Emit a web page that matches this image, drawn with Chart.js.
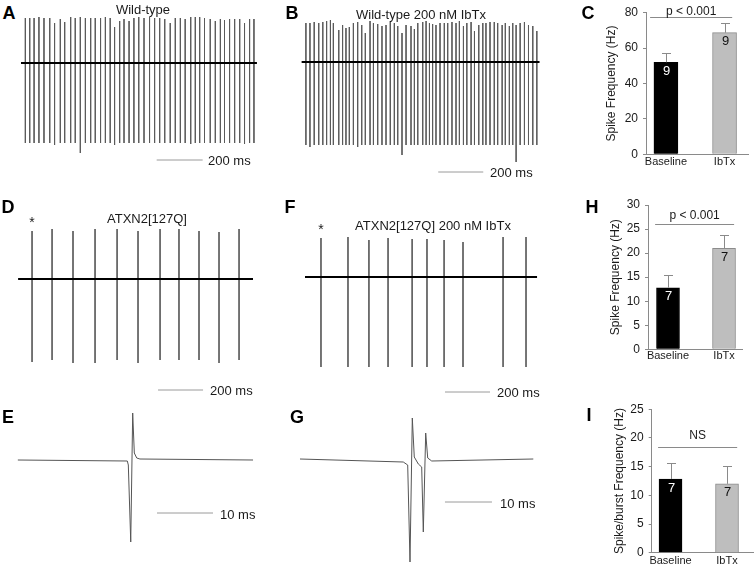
<!DOCTYPE html>
<html><head><meta charset="utf-8">
<script src="https://cdn.jsdelivr.net/npm/chart.js@4.4.1/dist/chart.umd.min.js"></script>
<style>
body{margin:0;background:#fff;width:755px;height:568px;position:relative;overflow:hidden;font-family:"Liberation Sans",Arial,sans-serif;}
canvas{position:absolute;}
.t{position:absolute;white-space:nowrap;color:#1a1a1a;line-height:1;transform:translate(-50%,-50%);}
.l{position:absolute;white-space:nowrap;color:#1a1a1a;line-height:1;transform:translate(0,-50%);font-size:13px;}
.L{font-weight:bold;font-size:18px;color:#000;}
.ti{font-size:13px;}
.ast{font-size:14px;}
</style></head><body>

<canvas id="cA" width="244" height="155" style="left:18px;top:10px"></canvas>
<canvas id="cB" width="246" height="168" style="left:296px;top:10px"></canvas>
<canvas id="cD" width="252" height="195" style="left:10px;top:200px"></canvas>
<canvas id="cF" width="246" height="198" style="left:296px;top:200px"></canvas>
<canvas id="cE" width="252" height="160" style="left:10px;top:400px"></canvas>
<canvas id="cG" width="246" height="170" style="left:296px;top:400px"></canvas>
<canvas id="cC" width="215" height="190" style="left:540px;top:0px"></canvas>
<canvas id="cH" width="215" height="180" style="left:540px;top:190px"></canvas>
<canvas id="cI" width="215" height="188" style="left:540px;top:380px"></canvas>

<div class="t L" style="left:9px;top:13px">A</div>
<div class="t L" style="left:292px;top:13px">B</div>
<div class="t L" style="left:588px;top:13px">C</div>
<div class="t L" style="left:8px;top:207px">D</div>
<div class="t L" style="left:290px;top:207px">F</div>
<div class="t L" style="left:592px;top:207px">H</div>
<div class="t L" style="left:8px;top:417px">E</div>
<div class="t L" style="left:297px;top:417px">G</div>
<div class="t L" style="left:589px;top:415px">I</div>

<div class="t ti" style="left:143px;top:9px">Wild-type</div>
<div class="t ti" style="left:421px;top:14px">Wild-type 200 nM IbTx</div>
<div class="t ti" style="left:147px;top:218px">ATXN2[127Q]</div>
<div class="t ti" style="left:433px;top:225px">ATXN2[127Q] 200 nM IbTx</div>
<div class="t ast" style="left:32px;top:222px">*</div>
<div class="t ast" style="left:321px;top:229px">*</div>

<div class="l" style="left:208px;top:160px">200 ms</div>
<div class="l" style="left:490px;top:172px">200 ms</div>
<div class="l" style="left:210px;top:390px">200 ms</div>
<div class="l" style="left:497px;top:392px">200 ms</div>
<div class="l" style="left:220px;top:514px">10 ms</div>
<div class="l" style="left:500px;top:503px">10 ms</div>

<script>
// ---------------- DATA ----------------
const conditions = ['Baseline', 'IbTx'];

// Bar panels (mean, SEM, n)
const wtSpikeFreq = [52.0, 68.7];
const wtSpikeSem = [5.0, 5.3];
const wtN = [9, 9];

const atxSpikeFreq = [12.8, 21.0];
const atxSpikeSem = [2.65, 2.8];
const atxN = [7, 7];

const atxBurstFreq = [12.85, 12.0];
const atxBurstSem = [2.75, 3.15];
const atxBurstN = [7, 7];

// Spike trains: spike times (ms), peak and trough amplitudes (arbitrary units, baseline 0)
const wtTimes = [32, 51, 70, 91, 113, 138, 159, 184, 203, 229, 249, 271, 293, 316, 336, 359, 380, 401, 420, 442, 461, 483, 504, 525, 548, 572, 594, 616, 638, 662, 684, 706, 727, 751, 771, 790, 811, 836, 858, 880, 898, 920, 942, 964, 985, 1007, 1026];
const wtPeaks = [45,45,45,46,45, 45,40,44,41,46, 45,46,45,45,45, 45,46,45,36,42, 44,42,45,46,45, 46,45,45,44,40, 45,45,44,46,46, 46,45,44,42,44, 43,44,44,44,40, 44,44];
const wtTroughs = [-80,-80,-80,-80,-80, -80,-82,-80,-80,-80, -80,-90,-80,-80,-80, -80,-80,-80,-82,-80, -80,-80,-80,-80,-80, -80,-80,-80,-80,-80, -80,-80,-80,-81,-80, -80,-80,-80,-80,-80, -80,-80,-80,-80,-81, -80,-80];

const wtIbTimes = [44, 62, 81, 101, 119, 136, 153, 166, 190, 207, 222, 237, 255, 274, 292, 308, 329, 344, 363, 382, 400, 419, 437, 452, 471, 489, 511, 526, 541, 563, 578, 593, 607, 622, 640, 659, 674, 693, 711, 726, 744, 759, 778, 793, 812, 830, 844, 862, 881, 896, 916, 930, 948, 963, 978, 996, 1015, 1033, 1052, 1070];
const wtIbPeaks = [39,39,40,39,40, 41,42,39,32,37, 34,35,39,40,37, 29,41,39,38,36, 37,40,39,36,29, 37,36,33,39,40, 41,39,38,37,39, 39,39,40,39,41, 36,39,40,31,37, 39,39,40,40,39, 37,39,36,39,37, 39,40,37,36,31];
const wtIbTroughs = [-83,-85,-83,-83,-83, -83,-83,-83,-83,-83, -83,-83,-83,-85,-83, -83,-83,-83,-83,-83, -83,-83,-83,-83,-93, -83,-83,-83,-83,-83, -83,-83,-83,-83,-83, -83,-83,-83,-83,-83, -83,-83,-83,-83,-83, -83,-83,-83,-83,-83, -83,-83,-83,-83,-100, -83,-83,-83,-83,-83];

const atxTimes = [98, 187, 280, 378, 476, 569, 667, 751, 840, 929, 1018];
const atxPeaks = [48, 50, 48, 50, 50, 48, 50, 50, 48, 47, 50];
const atxTroughs = [-83, -81, -84, -84, -81, -84, -81, -81, -81, -84, -81];

const atxIbTimes = [111, 231, 324, 409, 516, 582, 658, 742, 920, 1022];
const atxIbPeaks = [39, 40, 37, 39, 38, 38, 37, 35, 40, 40];
const atxIbTroughs = [-90, -90, -90, -90, -90, -90, -90, -90, -90, -90];

// Single-spike waveforms (time ms, amplitude)
const eTimes = [1.4, 20.95, 21.13, 21.56, 21.91, 22.2, 22.63, 23.2, 43.4];
const eVolts = [0, -1, -5, -82, 47, 7, 2, 1, 0];
const gTimes = [0.85, 22.83, 23.77, 24.26, 24.75, 25.17, 26.03, 26.75, 27.09, 27.6, 28.03, 28.88, 50.5];
const gVolts = [0, -3, -6, -103, 41, 2, -5, -8, -73, 26, 1, -2, 0];

// Scale bar lengths (ms)
const longBar = 200;
const shortBar = 10;

// ---------------- RENDER ----------------
Chart.defaults.font.family = '"Liberation Sans", Arial, sans-serif';
Chart.defaults.color = '#222';

function traceChart(id, o) {
  const datasets = [];
  if (o.base) datasets.push({data: [{x: o.base[0], y: 0}, {x: o.base[1], y: 0}], borderColor: '#000', borderWidth: 2});
  if (o.times) {
    const pts = [];
    o.times.forEach((t, i) => { pts.push({x: t, y: o.peaks[i]}, {x: t, y: o.troughs[i]}, {x: t, y: null}); });
    datasets.push({data: pts, borderColor: '#5a5a5a', borderWidth: 0.9});
  }
  if (o.wt) datasets.push({data: o.wt.map((t, i) => ({x: t, y: o.wv[i]})), borderColor: '#555', borderWidth: 1});
  datasets.push({data: [{x: o.bar[0], y: o.bar[2]}, {x: o.bar[0] + o.bar[1], y: o.bar[2]}], borderColor: '#9a9a9a', borderWidth: 1});
  new Chart(document.getElementById(id), {
    type: 'line',
    data: {datasets},
    options: {
      responsive: false, animation: false, events: [],
      layout: {padding: 0, autoPadding: false},
      elements: {point: {radius: 0}, line: {tension: 0}},
      plugins: {legend: {display: false}, tooltip: {enabled: false}},
      scales: {
        x: {type: 'linear', display: false, min: o.x[0], max: o.x[1]},
        y: {type: 'linear', display: false, min: o.y[0], max: o.y[1]}
      }
    }
  });
}

traceChart('cA', {x: [0, 1061], y: [-102, 53], base: [13, 1039], times: wtTimes, peaks: wtPeaks, troughs: wtTroughs, bar: [603, longBar, -97]});
traceChart('cB', {x: [0, 1093], y: [-116, 52], base: [25, 1082], times: wtIbTimes, peaks: wtIbPeaks, troughs: wtIbTroughs, bar: [632, longBar, -110]});
traceChart('cD', {x: [0, 1120], y: [-116, 79], base: [36, 1080], times: atxTimes, peaks: atxPeaks, troughs: atxTroughs, bar: [658, longBar, -111]});
traceChart('cF', {x: [0, 1093], y: [-121, 77], base: [40, 1071], times: atxIbTimes, peaks: atxIbPeaks, troughs: atxIbTroughs, bar: [662, longBar, -115]});
traceChart('cE', {x: [0, 45], y: [-100, 60], wt: eTimes, wv: eVolts, bar: [26.25, shortBar, -53]});
traceChart('cG', {x: [0, 52.35], y: [-111, 59], wt: gTimes, wv: gVolts, bar: [31.7, shortBar, -43]});

function barChart(id, o) {
  const annot = {
    id: 'annot',
    afterDatasetsDraw(chart) {
      const {ctx, scales: {x, y}} = chart;
      ctx.save();
      o.values.forEach((v, i) => {
        const px = Math.round(x.getPixelForValue(i + 1));
        const top = y.getPixelForValue(v);
        const et = Math.round(y.getPixelForValue(v + o.sem[i]));
        ctx.strokeStyle = '#8a8a8a'; ctx.lineWidth = 1;
        ctx.beginPath();
        ctx.moveTo(px + 0.5, top); ctx.lineTo(px + 0.5, et);
        ctx.moveTo(px - 4, et + 0.5); ctx.lineTo(px + 5, et + 0.5);
        ctx.stroke();
        ctx.fillStyle = i === 0 ? '#fff' : '#111';
        ctx.font = '13px "Liberation Sans", Arial, sans-serif';
        ctx.textAlign = 'center'; ctx.textBaseline = 'middle';
        ctx.fillText(String(o.n[i]), px + 0.5, top + 9);
      });
      const sx1 = x.getPixelForValue(o.sig[0]), sx2 = x.getPixelForValue(o.sig[1]);
      const sy = Math.round(y.getPixelForValue(o.sig[2])) + 0.5;
      ctx.strokeStyle = '#8a8a8a';
      ctx.beginPath(); ctx.moveTo(sx1, sy); ctx.lineTo(sx2, sy); ctx.stroke();
      ctx.fillStyle = '#1a1a1a';
      ctx.font = '12px "Liberation Sans", Arial, sans-serif';
      ctx.textAlign = 'center'; ctx.textBaseline = 'middle';
      ctx.fillText(o.sigText, (sx1 + sx2) / 2, sy - o.sigGap);
      ctx.restore();
    }
  };
  new Chart(document.getElementById(id), {
    type: 'bar',
    data: {datasets: [{
      data: o.values.map((v, i) => ({x: i + 1, y: v})),
      backgroundColor: ['#000000', '#bebebe'],
      borderColor: ['#000000', '#8c8c8c'],
      borderWidth: 1,
      barThickness: o.barW
    }]},
    options: {
      responsive: false, animation: false, events: [],
      layout: {autoPadding: false, padding: {left: o.pad[0], right: o.pad[1], top: o.pad[2], bottom: 0}},
      plugins: {legend: {display: false}, tooltip: {enabled: false}},
      scales: {
        x: {
          type: 'linear', min: o.xr[0], max: o.xr[1], bounds: 'data', offset: false,
          afterBuildTicks: s => { s.ticks = conditions.map((c, i) => ({value: i + 1})); },
          afterFit: s => { s.height = o.xH; },
          ticks: {callback: v => conditions[Math.round(v) - 1], font: {size: 11}, color: '#1a1a1a', padding: o.xPad, autoSkip: false, maxRotation: 0, minRotation: 0},
          grid: {display: false, drawTicks: false, offset: false},
          border: {display: true, color: '#8a8a8a', width: 1}
        },
        y: {
          min: 0, max: o.yMax,
          afterFit: s => { s.width = o.yW; },
          ticks: {stepSize: o.step, font: {size: 12}, color: '#1a1a1a', padding: 5},
          grid: {drawOnChartArea: false, drawTicks: true, tickLength: 3, color: '#8a8a8a'},
          border: {display: true, color: '#8a8a8a', width: 1},
          title: {display: true, text: o.yTitle, font: {size: 12}, color: '#1a1a1a', padding: {top: 4, bottom: 4}}
        }
      }
    },
    plugins: [annot]
  });
}

barChart('cC', {values: wtSpikeFreq, sem: wtSpikeSem, n: wtN, yMax: 80, step: 20, yTitle: 'Spike Frequency (Hz)',
  pad: [60, 7, 12.7], yW: 46, xH: 35.7, xPad: 1, xr: [0.66, 2.4], barW: 24,
  sig: [0.73, 2.13, 77.4], sigText: 'p < 0.001', sigGap: 6});
barChart('cH', {values: atxSpikeFreq, sem: atxSpikeSem, n: atxN, yMax: 30, step: 5, yTitle: 'Spike Frequency (Hz)',
  pad: [64, 13, 15], yW: 44, xH: 20.7, xPad: 0, xr: [0.643, 2.321], barW: 23,
  sig: [0.77, 2.18, 26.05], sigText: 'p < 0.001', sigGap: 9});
barChart('cI', {values: atxBurstFreq, sem: atxBurstSem, n: atxBurstN, yMax: 25, step: 5, yTitle: 'Spike/burst Frequency (Hz)',
  pad: [68, 2, 29.3], yW: 43.7, xH: 15.3, xPad: 2, xr: [0.667, 2.46], barW: 23,
  sig: [0.78, 2.18, 18.38], sigText: 'NS', sigGap: 12});
</script>
</body></html>
